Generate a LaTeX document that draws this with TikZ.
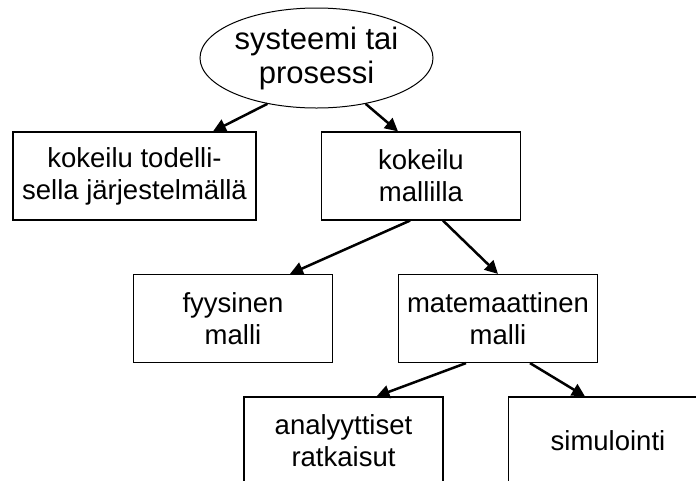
\documentclass[tikz,border=0pt]{standalone}
\usepackage{fontspec}
\setmainfont{Liberation Sans}
\usetikzlibrary{shapes.geometric,arrows.meta}
\begin{document}
\begin{tikzpicture}[x=1pt,y=-1pt,
    txt/.style={align=center,font=\fontsize{27.5}{32}\selectfont,inner sep=0pt},
    box/.style={txt,draw,line width=1.2pt,minimum width=199pt,minimum height=88pt},
    blob/.style={txt,draw,ellipse,line width=1pt,minimum width=233pt,minimum height=100pt,
      font=\fontsize{31}{34}\selectfont},
    link/.style={line width=2.5pt,-{Triangle[length=13pt,width=13pt]}}]
      \useasboundingbox (0,0) rectangle (696,480);
      \clip (0,0) rectangle (696,480);
      %%%%%%%%%%%%%%%%%%%%%%%%%%%%%%%%%%%%%%%%%%%%%%%
      \node[blob] at (316.5,58) (sys) {systeemi tai\\prosessi};
      %%%%%%%%%%%%%%%%%%%%%%%%%%%%%%%%%%%%%%%%%%%%%%%
      \node[box,minimum width=243pt] at (134.5,176) (todell) {kokeilu todelli-\\sella järjestelmällä};
      \node[box] at (421,176)   (mallilla) {kokeilu\\mallilla};
      \draw[link] (sys.223) -- ([xshift=78.5pt]todell.north);
      \draw[link] (sys.317) -- ([xshift=-23pt]mallilla.north);
      %%%%%%%%%%%%%%%%%%%%%%%%%%%%%%%%%%%%%%%%%%%%%%%
      \node[box] at (233,318.5) (fyys) {fyysinen\\malli};
      \node[box] at (498,318.5) (mate) {matemaattinen\\malli};
      \draw[link] ([xshift=-11pt]mallilla.south) -- ([xshift=57pt]fyys.north);
      \draw[link] ([xshift=22pt]mallilla.south) -- (mate.north);
      %%%%%%%%%%%%%%%%%%%%%%%%%%%%%%%%%%%%%%%%%%%%%%%
      \node[box] at (343.5,441) (anal) {analyyttiset\\ratkaisut};
      \node[box] at (608,441)   (simu) {simulointi};
      \draw[link] ([xshift=-32pt]mate.south) -- ([xshift=33pt]anal.north);
      \draw[link] ([xshift=32pt]mate.south) -- ([xshift=-23pt]simu.north);
      %%%%%%%%%%%%%%%%%%%%%%%%%%%%%%%%%%%%%%%%%%%%%%%
    \end{tikzpicture}
\end{document}
